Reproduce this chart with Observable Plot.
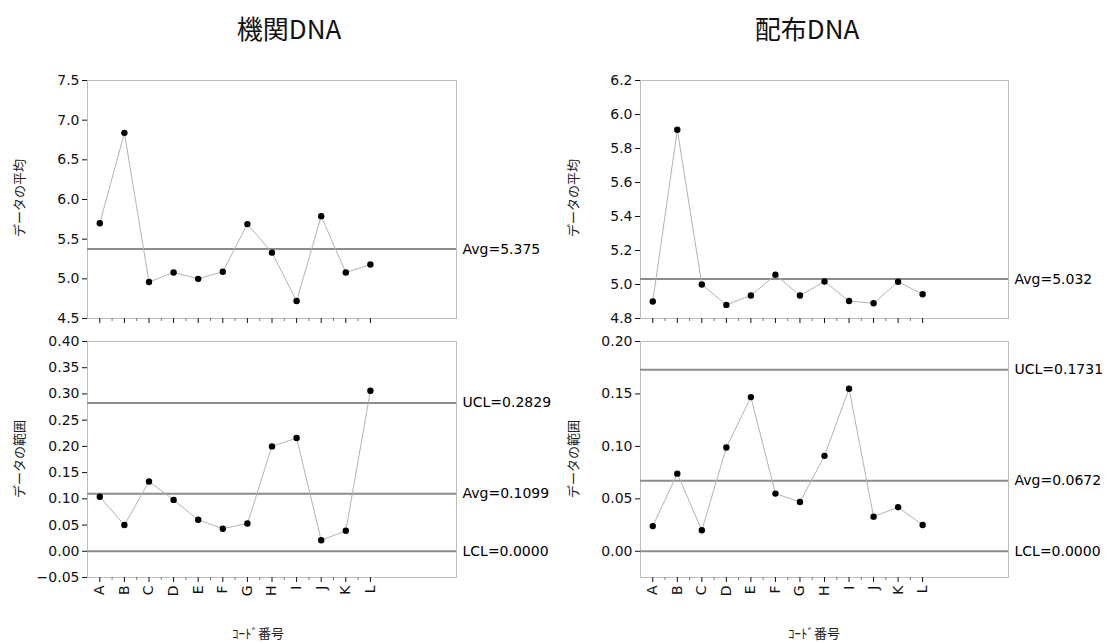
<!DOCTYPE html>
<html><head><meta charset="utf-8">
<script src="https://cdn.jsdelivr.net/npm/d3@7"></script>
<script src="https://cdn.jsdelivr.net/npm/@observablehq/plot@0.6"></script>
<style>
body{margin:0;background:#fff;}
#root{position:relative;width:1111px;height:643px;overflow:hidden;background:#fff;}
.abs{position:absolute;}
.title{font-family:"Noto Sans CJK JP";font-size:26px;color:#111;transform:translate(-50%,-50%);white-space:nowrap;}
.ylab{font-family:"Noto Sans CJK JP";font-size:13px;color:#222;transform:translate(-50%,-50%) rotate(-90deg);white-space:nowrap;}
.xlab{font-family:"Noto Sans CJK JP";font-size:13px;color:#222;transform:translate(-50%,-50%);white-space:nowrap;}
</style></head>
<body><div id="root"></div>
<script>
const categories = ["A","B","C","D","E","F","G","H","I","J","K","L"];

const kikanMean  = [5.70, 6.84, 4.96, 5.08, 5.00, 5.09, 5.69, 5.33, 4.72, 5.79, 5.08, 5.18];
const kikanRange = [0.104, 0.050, 0.133, 0.098, 0.060, 0.043, 0.053, 0.200, 0.216, 0.021, 0.039, 0.306];
const haifuMean  = [4.90, 5.91, 5.00, 4.88, 4.935, 5.057, 4.935, 5.018, 4.903, 4.89, 5.016, 4.943];
const haifuRange = [0.024, 0.074, 0.020, 0.099, 0.147, 0.055, 0.047, 0.091, 0.155, 0.033, 0.042, 0.025];

const kikanMeanCtl  = [{label:"Avg=5.375", value:5.375}];
const kikanRangeCtl = [{label:"UCL=0.2829", value:0.2829},{label:"Avg=0.1099", value:0.1099},{label:"LCL=0.0000", value:0}];
const haifuMeanCtl  = [{label:"Avg=5.032", value:5.032}];
const haifuRangeCtl = [{label:"UCL=0.1731", value:0.1731},{label:"Avg=0.0672", value:0.0672},{label:"LCL=0.0000", value:0}];

const kikanMeanTicks  = [4.5,5.0,5.5,6.0,6.5,7.0,7.5];
const kikanRangeTicks = [-0.05,0,0.05,0.10,0.15,0.20,0.25,0.30,0.35,0.40];
const haifuMeanTicks  = [4.8,5.0,5.2,5.4,5.6,5.8,6.0,6.2];
const haifuRangeTicks = [0,0.05,0.10,0.15,0.20];

const titles = ["機関DNA","配布DNA"];
const yLabels = ["データの平均","データの範囲"];
const xLabel = "ｺｰﾄﾞ番号";

const root = document.getElementById("root");

function addDiv(cls, text, x, y){
  const d = document.createElement("div");
  d.className = "abs " + cls;
  d.textContent = text;
  d.style.left = x + "px";
  d.style.top = y + "px";
  root.appendChild(d);
}

function panel(o){
  const data = o.values.map((v,i)=>({i, v}));
  const idx = categories.map((_,i)=>i);
  const half = categories.slice(0,-1).map((_,i)=>i+0.5);
  const chart = Plot.plot({
    width:o.width, height:o.height,
    marginTop:o.mt, marginBottom:o.mb, marginLeft:o.ml, marginRight:o.mr,
    style:{fontFamily:"DejaVu Sans", fontSize:"14px", background:"transparent", color:"#000"},
    x:{domain:[-0.5,14.5], label:null},
    y:{domain:o.domain, label:null},
    marks:[
      Plot.frame({stroke:"#bdbdbd"}),
      Plot.axisY({ticks:o.ticks, tickFormat:o.fmt, tickSize:5, tickPadding:3, fontSize:14, label:null, color:"#111"}),
      Plot.axisX({ticks:idx, tickFormat: o.labels ? (i=>categories[i]) : (()=>""), tickSize:5, tickPadding:3, tickRotate: o.labels ? -90 : 0, fontSize:14, label:null, color:"#111"}),
      Plot.axisX({ticks:half, tickFormat:()=>"", tickSize:3, label:null, color:"#777"}),
      Plot.ruleY(o.ctl, {y:"value", stroke:"#8c8c8c", strokeWidth:2}),
      Plot.line(data, {x:"i", y:"v", stroke:"#b3b3b3", strokeWidth:1}),
      Plot.dot(data, {x:"i", y:"v", r:3.2, fill:"#000"}),
      Plot.text(o.ctl, {y:"value", text:"label", frameAnchor:"right", dx:6, textAnchor:"start", fontSize:14, fill:"#000"})
    ]
  });
  const wrap = document.createElement("div");
  wrap.className = "abs";
  wrap.style.left = o.left + "px";
  wrap.style.top = o.top + "px";
  wrap.appendChild(chart);
  root.appendChild(wrap);
}

const f1 = d3.format(".1f"), f2 = d3.format(".2f");
const L = {left:0, width:556, ml:87, mr:100};
const R = {left:556, width:555, ml:84, mr:103};
const T = {top:70, height:260, mt:10, mb:12};
const B = {top:330, height:280, mt:11, mb:33};

panel({...L, ...T, values:kikanMean, domain:[4.5,7.5], ticks:kikanMeanTicks, fmt:f1, ctl:kikanMeanCtl, labels:false});
panel({...L, ...B, values:kikanRange, domain:[-0.05,0.40], ticks:kikanRangeTicks, fmt:f2, ctl:kikanRangeCtl, labels:true});
panel({...R, ...T, values:haifuMean, domain:[4.8,6.2], ticks:haifuMeanTicks, fmt:f1, ctl:haifuMeanCtl, labels:false});
panel({...R, ...B, values:haifuRange, domain:[-0.025,0.20], ticks:haifuRangeTicks, fmt:f2, ctl:haifuRangeCtl, labels:true});

addDiv("title", titles[0], 289, 27);
addDiv("title", titles[1], 807, 27);
addDiv("ylab", yLabels[0], 18, 198);
addDiv("ylab", yLabels[1], 18, 459);
addDiv("ylab", yLabels[0], 572, 198);
addDiv("ylab", yLabels[1], 572, 459);
addDiv("xlab", xLabel, 258, 632);
addDiv("xlab", xLabel, 814, 632);
</script>
</body></html>
